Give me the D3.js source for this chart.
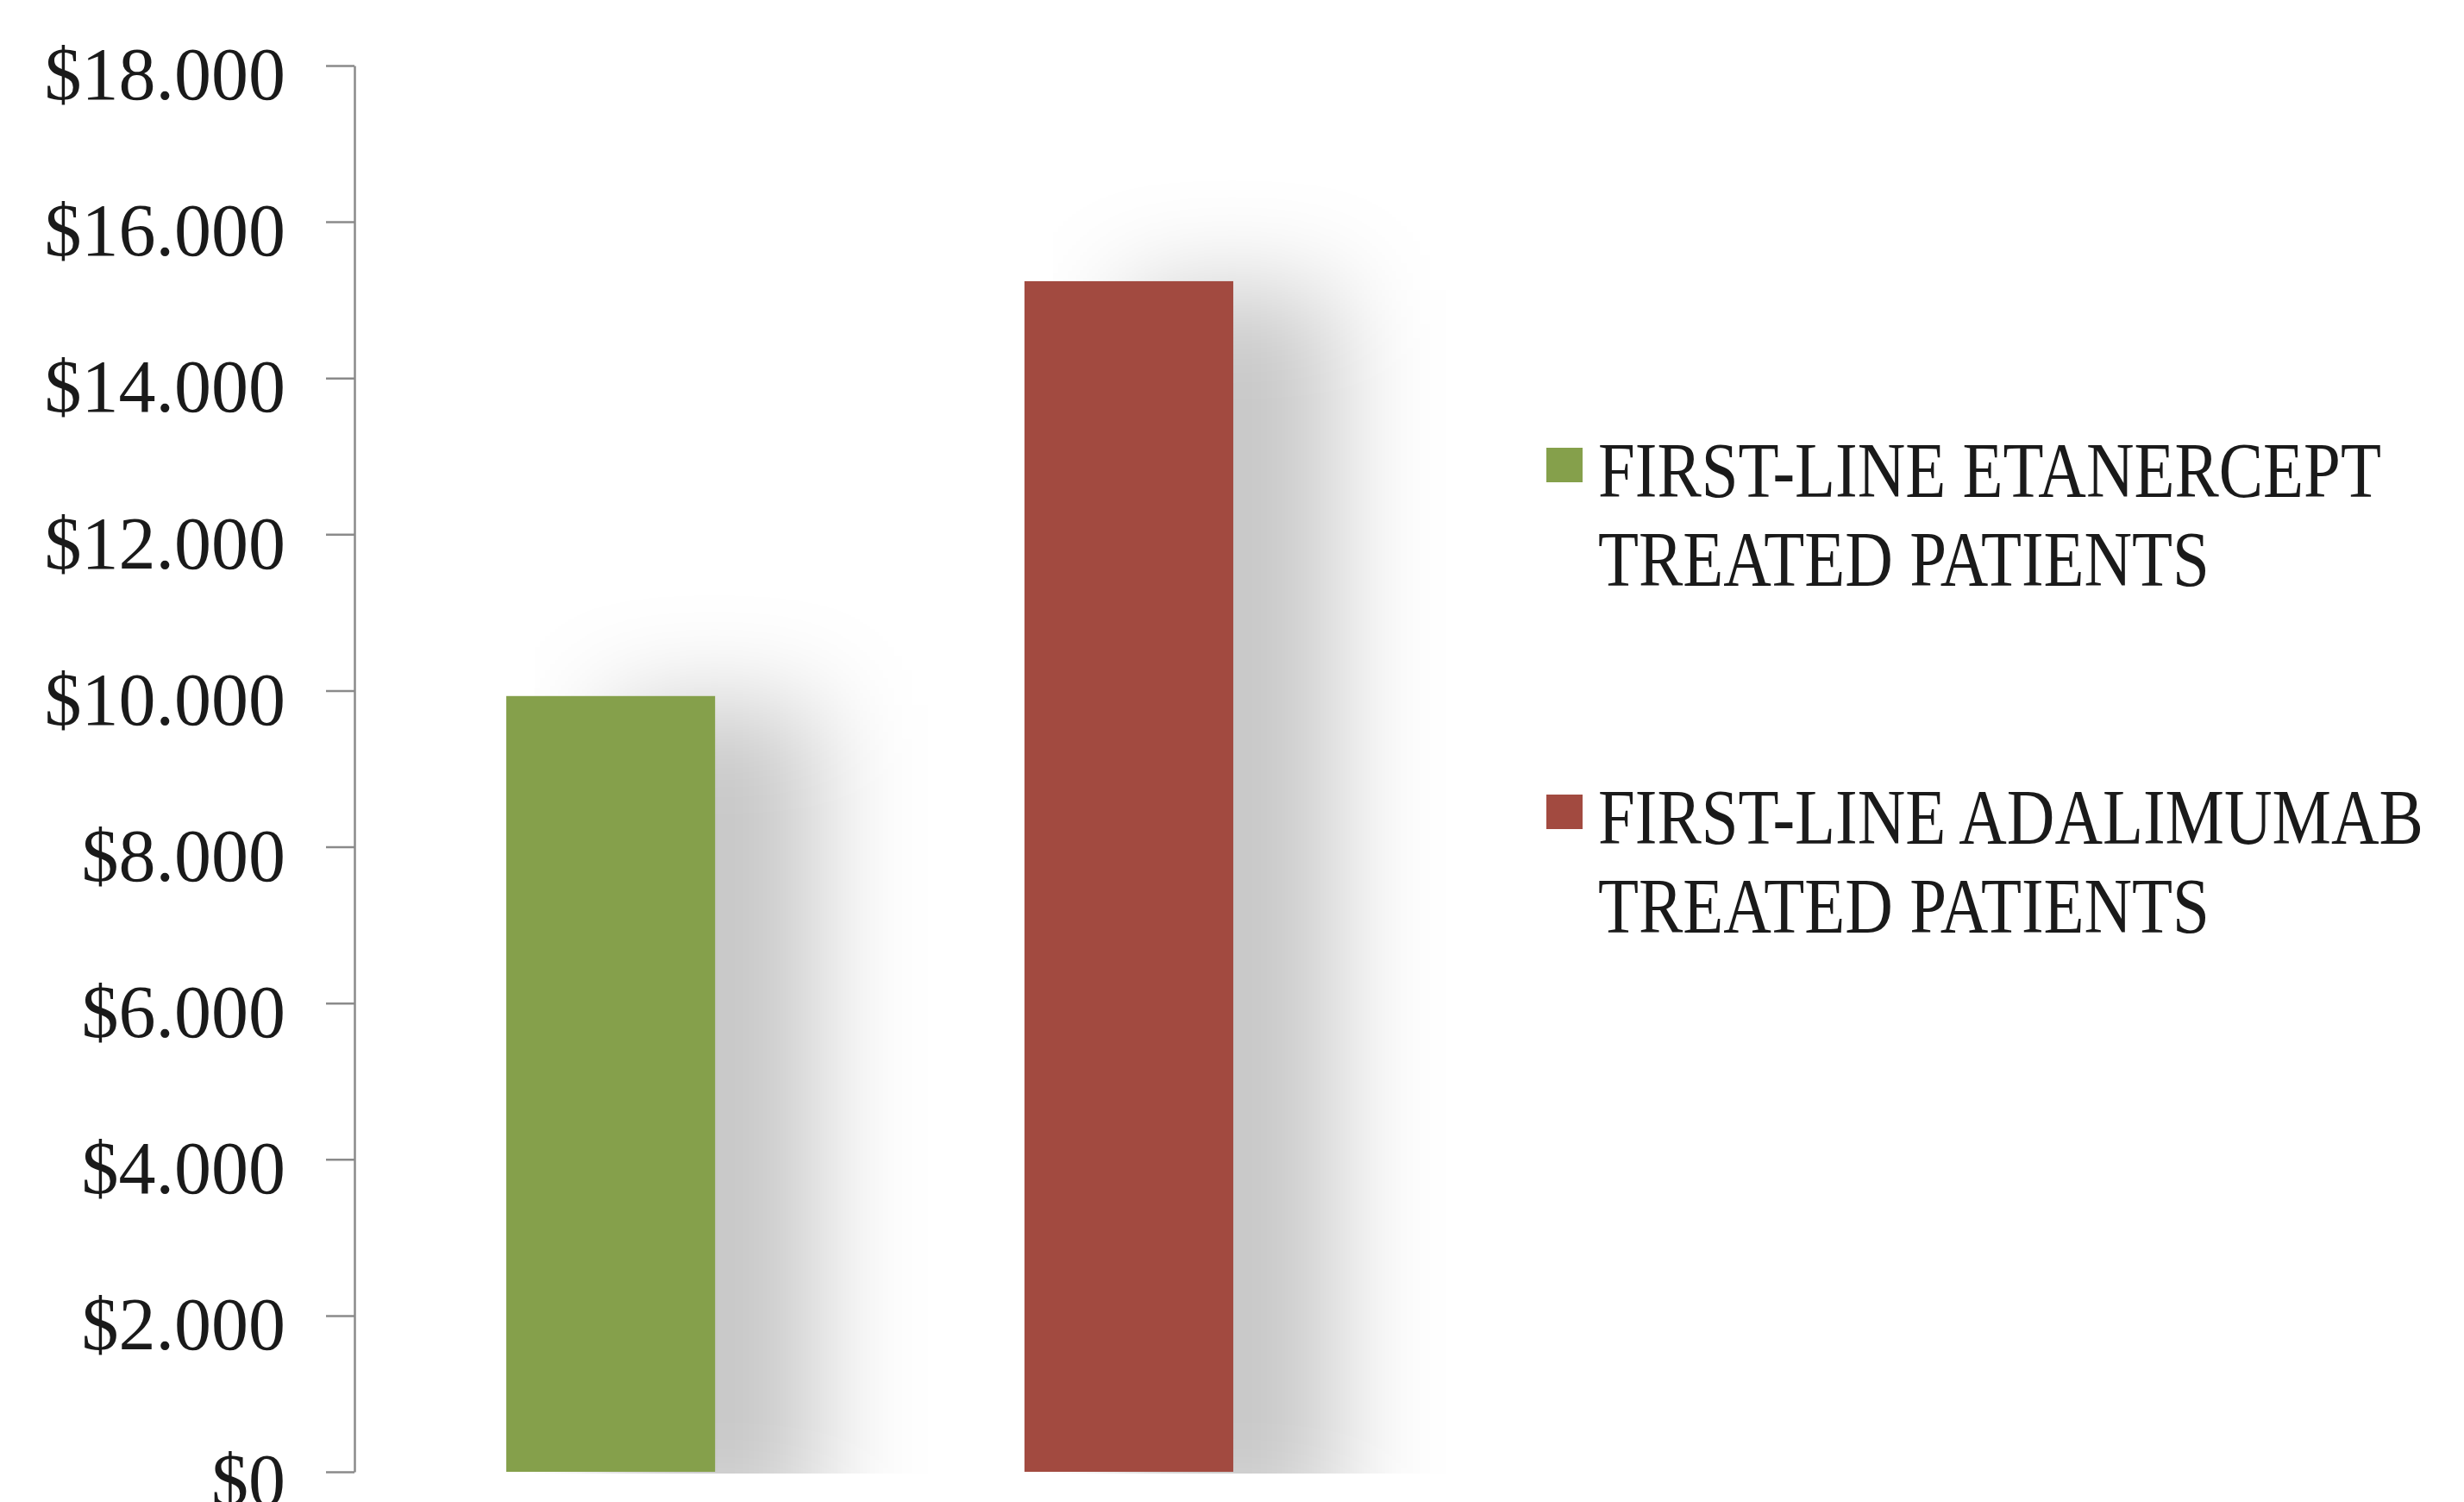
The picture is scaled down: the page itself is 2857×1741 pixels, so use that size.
<!DOCTYPE html>
<html>
  <head>
    <meta charset="utf-8" />
    <title>First-line cost</title>
    <script src="https://d3js.org/d3.v7.min.js"></script>
    <style>
      body {
        margin: 0;
        background: #fff;
      }
      svg {
        display: block;
        font-family: "Liberation Serif", "Times New Roman", serif;
      }
      .axis path,
      .axis line {
        fill: none;
        stroke: #8a8a8a;
        stroke-width: 2.5;
      }
      .axis text {
        fill: #1a1a1a;
        font-family: "Liberation Serif", "Times New Roman", serif;
        font-size: 86px;
      }
      .legend text {
        fill: #1a1a1a;
        font-size: 90px;
      }
    </style>
  </head>
  <body>
    <div id="chart-container"></div>
    <script>
      // chart values
      const categories = ["etanercept", "adalimumab"];
      const legendLines = [
        ["FIRST-LINE ETANERCEPT", "TREATED PATIENTS"],
        ["FIRST-LINE ADALIMUMAB", "TREATED PATIENTS"],
      ];
      const costs = [9930, 15240];
      const colors = ["#85a04b", "#a24a40"];
      const yTicks = [0, 2000, 4000, 6000, 8000, 10000, 12000, 14000, 16000, 18000];

      const width = 2857;
      const height = 1741;
      const plot = { left: 411, right: 1606, top: 76, bottom: 1706 };

      const svg = d3
        .select("#chart-container")
        .append("svg")
        .attr("width", width)
        .attr("height", height);

      //scales
      const xScale = d3
        .scaleBand()
        .domain(categories)
        .range([plot.left, plot.right])
        .paddingInner(0.597)
        .paddingOuter(0.293);
      const yScale = d3.scaleLinear().domain([0, 18000]).range([plot.bottom, plot.top]);

      const data = categories.map((c, i) => ({ cat: c, value: costs[i], color: colors[i] }));

      //soft shadow behind each bar
      const defs = svg.append("defs");
      defs
        .append("filter")
        .attr("id", "blur")
        .attr("x", "-100%")
        .attr("y", "-100%")
        .attr("width", "300%")
        .attr("height", "300%")
        .append("feGaussianBlur")
        .attr("stdDeviation", 60);

      defs
        .selectAll("clipPath")
        .data(data)
        .join("clipPath")
        .attr("id", (d, i) => `shadow-clip-${i}`)
        .append("rect")
        .attr("x", (d) => xScale(d.cat) + 33)
        .attr("y", 0)
        .attr("width", xScale.bandwidth() + 232)
        .attr("height", yScale(0) + 2);

      svg
        .append("g")
        .selectAll("g")
        .data(data)
        .join("g")
        .attr("clip-path", (d, i) => `url(#shadow-clip-${i})`)
        .append("rect")
        .attr("x", (d) => xScale(d.cat) + 120)
        .attr("y", (d) => yScale(d.value) + 10)
        .attr("width", xScale.bandwidth())
        .attr("height", (d) => yScale(0) - yScale(d.value) + 60)
        .attr("fill", "#000")
        .attr("fill-opacity", 0.22)
        .attr("filter", "url(#blur)");

      //bars
      svg
        .append("g")
        .selectAll("rect")
        .data(data)
        .join("rect")
        .attr("x", (d) => xScale(d.cat))
        .attr("y", (d) => yScale(d.value))
        .attr("width", xScale.bandwidth())
        .attr("height", (d) => yScale(0) - yScale(d.value))
        .attr("fill", (d) => d.color);

      //y axis with dotted thousands
      const yAxis = d3
        .axisLeft(yScale)
        .tickValues(yTicks)
        .tickSize(33)
        .tickSizeOuter(0)
        .tickPadding(47)
        .tickFormat((d) => "$" + d3.format(",")(d).replace(/,/g, "."));

      const gy = svg
        .append("g")
        .attr("class", "axis")
        .attr("transform", `translate(${plot.left},0)`)
        .call(yAxis)
        .attr("font-family", null)
        .attr("font-size", null);
      gy.selectAll("text").attr("dy", "0.45em");

      //legend
      const legend = svg
        .append("g")
        .attr("class", "legend")
        .selectAll("g")
        .data(data)
        .join("g")
        .attr("transform", (d, i) => `translate(1793,${576 + i * 402})`);

      legend
        .append("rect")
        .attr("x", 0)
        .attr("y", -57)
        .attr("width", 42)
        .attr("height", 40)
        .attr("fill", (d) => d.color);

      legend
        .append("text")
        .attr("transform", "translate(60,0) scale(0.855,1)")
        .selectAll("tspan")
        .data((d, i) => legendLines[i])
        .join("tspan")
        .attr("x", 0)
        .attr("y", (d, j) => j * 103)
        .text((d) => d);
    </script>
  </body>
</html>
